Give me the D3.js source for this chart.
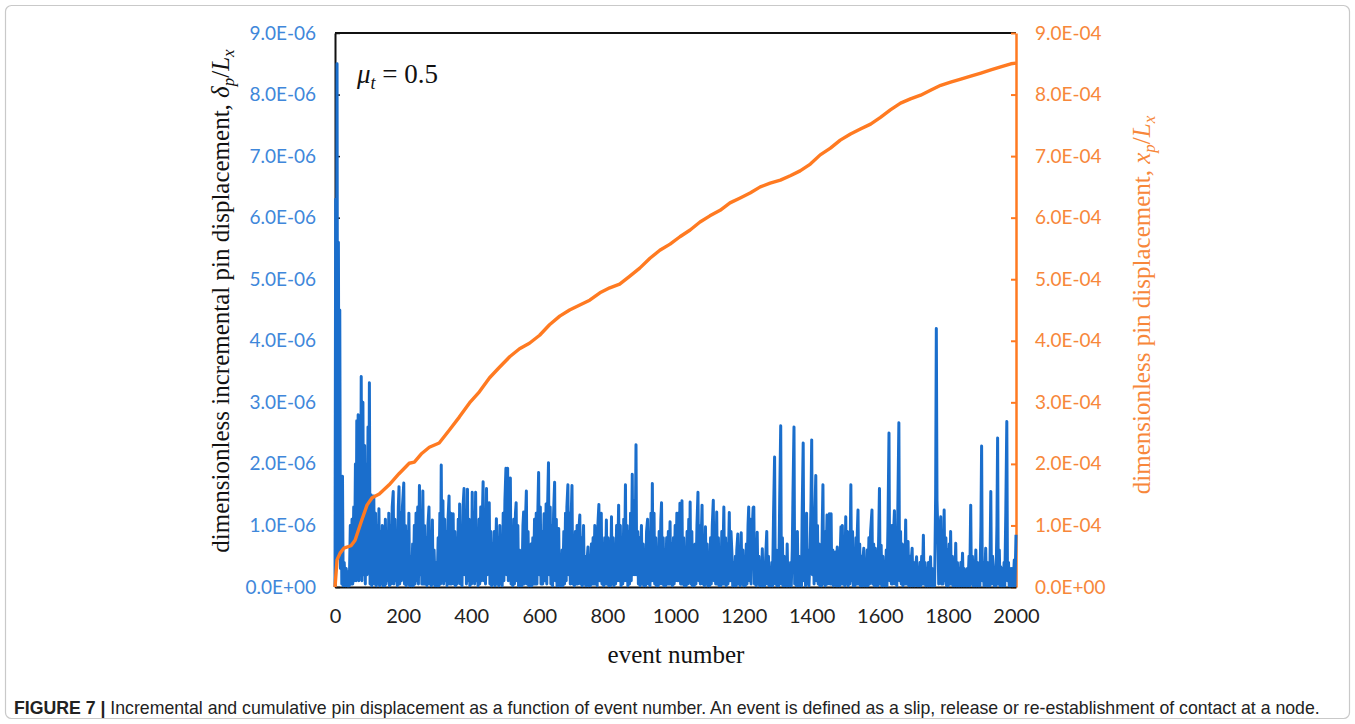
<!DOCTYPE html>
<html>
<head>
<meta charset="utf-8">
<script src="https://cdn.jsdelivr.net/npm/d3@7.9.0/dist/d3.min.js"></script>
<style>
  body { margin: 0; background: #fff; }
  svg { display: block; }
</style>
</head>
<body>
<div id="chart"></div>
<script>
// === Data ===
// x axis ticks (event number)
const xTicks = [0, 200, 400, 600, 800, 1000, 1200, 1400, 1600, 1800, 2000];

// left axis: incremental displacement, in units of 1E-06
const leftTicks = [0, 1, 2, 3, 4, 5, 6, 7, 8, 9];
const leftTickLabels = ["0.0E+00", "1.0E-06", "2.0E-06", "3.0E-06", "4.0E-06",
  "5.0E-06", "6.0E-06", "7.0E-06", "8.0E-06", "9.0E-06"];

// right axis: cumulative displacement, in units of 1E-04
const rightTicks = [0, 1, 2, 3, 4, 5, 6, 7, 8, 9];
const rightTickLabels = ["0.0E+00", "1.0E-04", "2.0E-04", "3.0E-04", "4.0E-04",
  "5.0E-04", "6.0E-04", "7.0E-04", "8.0E-04", "9.0E-04"];

// incremental pin displacement [event, value x1E-06]
const incData = [
  [0,0],[2,6.3],[4,2.5],[6,8.5],[8,0.5],[10,5.6],[12,1.2],[14,4.5],[16,0.3],[18,1.8],[20,0.05],[22,1.8],[24,0.02],[27,0.4],[30,0.02],[33,0.3],[36,0.02],[39,0.25],[42,0.02],
  [45,1.0],[47,0.05],[50,1.1],[52,0.05],[55,1.3],[57,0.1],[60,2.0],[62,0.1],[64,2.7],[66,0.2],[68,2.8],[70,0.1],[73,2.6],[75,0.3],[77,3.42],[79,0.1],[82,3.0],[84,0.2],[87,2.3],[89,0.05],[92,2.0],[94,0.2],[97,2.6],[99,0.3],[101,3.32],[103,0.05],[106,1.5],[108,0.02],
  [111,1.0],[114,1.48],[116,0.05],[119,1.2],[121,0.02],[124,1.0],[126,0.05],[129,1.27],[131,0.02],[134,0.9],[136,0.05],[139,1.0],[141,0.02],[144,0.6],[146,0.02],[148,1.1],[150,0.05],[153,0.9],[155,0.1],[158,1.2],[160,0.02],[163,1.0],[165,0.05],[168,1.3],[171,1.55],[173,0.05],[176,1.1],[178,0.1],[181,0.9],[183,0.02],[186,1.3],[188,1.63],[190,0.05],[193,1.2],[195,0.1],[198,1.3],[202,1.69],[204,0.05],[207,1.0],[209,0.02],[212,0.9],[214,0.05],[217,1.2],[219,0.02],[222,0.5],[225,0.02],[228,0.7],[230,0.02],[233,1.0],[235,0.05],[238,1.2],[240,0.1],[243,1.3],[245,0.05],[248,1.65],[250,0.2],[253,1.2],[255,0.05],[258,1.56],[260,0.05],[263,1.0],[265,0.05],[268,0.8],[270,0.02],[273,1.0],[276,1.30],[278,0.05],[281,0.9],[283,0.02],[286,1.09],[288,0.05],[291,0.6],[294,0.02],[297,0.4],[300,0.02],
  [303,0.8],[305,0.02],[308,1.2],[310,0.05],[312,1.98],[314,0.1],[317,1.4],[319,0.05],[322,1.1],[324,0.1],[327,0.9],[329,0.02],[332,1.1],[335,1.48],[337,0.05],[340,1.2],[342,0.05],[345,0.9],[347,1.19],[349,0.05],[352,0.9],[354,0.02],[357,0.8],[359,0.05],[362,1.1],[364,0.1],[366,1.35],[368,0.05],[371,1.0],[373,0.02],[376,1.3],[379,1.6],[381,0.2],[384,1.2],[386,0.05],[389,1.59],[391,0.1],[394,1.1],[396,0.02],[399,1.0],[401,0.05],[403,1.54],[405,0.2],[408,1.2],[410,0.05],[413,1.54],[415,0.1],[418,0.9],[420,0.02],[423,1.1],[425,0.05],[428,1.3],[430,0.1],[433,1.2],[435,1.71],[437,0.1],[440,1.2],[442,0.05],[445,1.6],[447,0.2],[450,1.1],[453,1.37],[455,0.05],[458,0.9],[460,0.02],[463,0.7],[465,0.05],[468,0.9],[470,0.02],[474,1.11],[476,0.05],[479,0.8],[481,0.02],[484,1.0],[486,0.05],[489,0.7],[491,0.02],[494,1.2],[496,0.1],[499,1.4],[502,1.93],[504,0.2],
  [507,1.93],[509,0.1],[512,1.2],[515,1.77],[517,0.05],[520,0.9],[522,0.02],[525,1.1],[527,0.05],[530,1.2],[532,1.37],[534,0.1],[537,1.0],[539,0.02],[542,0.6],[544,0.02],[547,0.5],[549,0.02],[552,1.0],[554,1.22],[556,0.05],[559,1.0],[562,1.56],[564,0.05],[567,0.9],[569,0.02],[572,0.5],[574,0.02],[576,0.7],[578,0.02],[581,0.8],[583,0.05],[586,1.1],[588,0.05],[591,1.2],[593,0.05],[596,1.3],[598,1.86],[600,0.2],[603,1.3],[605,0.05],[608,0.9],[610,0.05],[614,1.19],[616,0.1],[620,1.35],[622,0.05],[624,1.2],[627,2.02],[629,0.2],[632,1.3],[634,0.05],[637,1.0],[639,0.02],[642,1.2],[645,1.7],[647,0.1],[650,1.1],[652,0.02],[654,0.7],[657,0.95],[659,0.02],[662,0.5],[664,0.02],[667,0.6],[669,0.02],[672,0.9],[674,0.05],[677,1.2],[679,0.1],[681,1.3],[684,1.66],[686,0.2],[689,1.2],[691,0.05],[693,1.0],[696,1.65],[698,0.05],
  [701,0.8],[703,0.02],[706,0.9],[708,0.05],[711,1.0],[713,0.05],[716,0.9],[719,1.17],[721,0.05],[724,0.8],[726,0.02],[728,0.6],[730,1.0],[732,0.05],[735,0.5],[737,0.02],[740,0.4],[743,0.65],[745,0.02],[748,0.5],[750,0.02],[753,0.7],[755,0.05],[758,0.8],[760,0.05],[763,1.0],[765,0.05],[768,0.9],[770,0.02],[772,1.0],[775,1.34],[777,0.1],[780,0.9],[782,1.2],[784,0.05],[787,0.7],[789,0.02],[792,0.8],[794,0.05],[797,1.09],[799,0.05],[802,0.8],[804,0.02],[807,0.6],[809,0.02],[812,1.14],[814,0.05],[817,0.8],[819,0.02],[822,0.7],[824,0.05],[827,1.0],[829,0.1],[833,1.33],[835,0.1],[838,1.0],[840,0.02],[843,0.8],[845,0.05],[848,1.1],[850,0.1],[853,1.66],[855,0.1],[858,1.0],[860,0.02],[863,0.9],[865,0.05],[868,1.2],[870,0.1],[873,1.83],[875,0.2],[878,1.4],[881,0.2],[884,2.31],[886,0.2],[889,0.9],[891,0.05],[894,0.8],[896,0.02],[898,0.6],
  [900,1.0],[902,0.05],[905,0.7],[907,0.02],[910,0.6],[912,0.02],[915,0.9],[918,1.1],[920,0.05],[923,0.8],[925,0.02],[928,1.2],[930,0.1],[932,1.68],[934,0.1],[937,1.2],[939,0.05],[942,0.8],[944,0.02],[947,0.6],[949,0.02],[952,0.9],[954,0.05],[957,1.1],[959,1.37],[961,0.05],[964,0.8],[966,0.02],[969,0.6],[971,0.02],[974,0.8],[976,0.05],[979,0.9],[981,0.05],[984,1.06],[986,0.05],[989,0.7],[991,0.02],[994,0.8],[996,0.05],[999,1.0],
  [1001,0.1],[1004,1.2],[1006,0.1],[1008,1.2],[1010,0.1],[1013,1.36],[1015,0.05],[1019,1.4],[1021,0.05],[1024,0.8],[1026,0.02],[1029,0.6],[1031,0.02],[1034,0.9],[1036,0.05],[1039,1.1],[1041,0.1],[1043,1.38],[1045,0.05],[1048,0.9],[1050,0.02],[1053,0.68],[1055,0.02],[1058,0.7],[1060,0.05],[1063,1.0],[1066,1.54],[1068,0.1],[1071,1.0],[1073,0.05],[1076,0.9],[1078,1.33],[1080,0.05],[1083,0.7],[1085,0.02],[1088,0.98],[1090,0.05],[1093,0.7],[1095,0.02],[1098,0.5],[1100,0.02],[1103,0.8],[1105,0.05],[1108,1.0],[1111,1.41],[1113,0.1],[1116,1.0],[1118,0.05],[1121,1.22],[1123,0.05],[1126,0.8],[1128,0.02],[1131,0.6],[1133,0.02],[1136,0.9],[1138,0.05],[1142,1.30],[1144,0.05],[1147,0.8],[1149,0.02],[1152,0.7],[1154,0.05],[1158,1.21],[1160,0.1],[1163,0.9],[1166,0.5],[1168,0.02],[1171,0.4],[1173,0.02],[1176,0.5],[1178,0.02],[1180,0.6],[1183,0.86],[1185,0.05],[1188,0.6],[1190,0.02],[1193,0.88],[1195,0.05],[1198,0.6],
  [1200,0.02],[1203,0.4],[1205,0.02],[1208,0.7],[1210,0.05],[1213,1.0],[1215,1.30],[1217,0.1],[1220,1.1],[1222,0.05],[1225,0.9],[1228,1.29],[1230,1.30],[1232,0.05],[1235,0.7],[1237,0.02],[1240,0.89],[1242,0.05],[1245,0.5],[1247,0.02],[1250,0.3],[1252,0.02],[1255,0.62],[1257,0.02],[1260,0.4],[1262,0.02],[1265,0.5],[1268,0.9],[1270,0.05],[1273,0.5],[1275,0.02],[1278,0.3],[1280,0.02],[1283,0.4],[1285,0.02],[1288,1.2],[1291,2.11],[1293,0.05],[1296,0.6],[1298,0.02],[1301,0.3],[1303,0.02],[1306,1.4],[1309,2.62],[1311,0.05],[1314,0.8],[1316,0.02],[1319,0.5],[1321,0.02],[1324,0.4],[1326,0.02],[1328,0.7],[1330,0.02],[1333,0.3],[1335,0.02],[1338,0.4],[1340,0.02],[1343,0.6],[1345,1.5],[1348,2.6],[1350,0.05],[1353,0.3],[1355,0.02],[1358,0.9],[1360,0.02],[1363,0.5],[1365,0.02],[1368,0.4],[1370,0.02],[1372,1.2],[1375,2.34],[1377,0.1],[1380,0.5],[1382,0.02],[1385,1.2],[1387,0.05],[1390,0.6],[1392,0.02],[1395,0.5],[1398,1.4],
  [1400,2.39],[1402,0.2],[1405,1.2],[1407,0.05],[1409,1.1],[1412,1.81],[1414,0.1],[1417,1.0],[1419,0.05],[1422,0.7],[1424,0.02],[1427,0.6],[1429,0.02],[1431,1.0],[1433,1.66],[1435,0.05],[1438,0.9],[1440,0.02],[1443,0.6],[1445,1.17],[1447,0.05],[1450,0.8],[1452,1.19],[1454,0.05],[1457,1.19],[1459,0.05],[1462,0.6],[1464,0.02],[1467,0.4],[1470,0.57],[1472,0.02],[1475,0.65],[1477,0.02],[1480,0.5],[1482,0.02],[1484,0.6],[1486,0.98],[1488,0.05],[1490,1.0],[1492,0.05],[1495,0.7],[1497,0.02],[1500,1.14],[1502,0.05],[1505,0.9],[1507,0.02],[1510,0.8],[1512,0.05],[1515,1.66],[1517,0.1],[1520,0.9],[1522,0.02],[1525,0.6],[1527,0.02],[1530,0.8],[1532,0.05],[1534,0.9],[1536,1.25],[1538,0.05],[1541,0.7],[1543,0.02],[1546,0.5],[1548,0.02],[1550,0.4],[1553,0.63],[1555,0.02],[1558,0.4],[1560,0.02],[1563,0.6],[1565,0.02],[1568,0.8],[1570,0.05],[1573,0.9],[1577,1.25],[1579,0.05],[1582,0.7],[1584,0.02],[1587,0.63],[1589,0.02],[1592,0.5],[1594,0.02],[1597,0.9],[1599,1.6],
  [1601,0.05],[1604,0.68],[1606,0.02],[1609,0.5],[1611,0.02],[1614,0.4],[1616,0.02],[1619,0.6],[1621,0.02],[1624,1.0],[1627,2.5],[1629,0.1],[1632,0.9],[1634,0.05],[1636,1.0],[1638,0.05],[1640,0.8],[1643,1.24],[1645,0.05],[1648,0.8],[1650,0.02],[1653,1.3],[1656,2.67],[1658,0.1],[1661,0.9],[1663,0.05],[1666,0.7],[1668,0.02],[1671,0.6],[1673,0.05],[1676,1.09],[1678,0.05],[1680,0.6],[1683,0.74],[1685,0.02],[1688,0.5],[1690,0.02],[1692,0.4],[1695,0.63],[1697,0.02],[1700,0.4],[1702,0.02],[1705,0.3],[1708,0.49],[1710,0.02],[1713,0.3],[1715,0.02],[1718,0.4],[1720,0.02],[1723,0.5],[1725,0.05],[1728,0.84],[1730,0.05],[1733,0.4],[1735,0.02],[1738,0.3],[1740,0.02],[1743,0.4],[1745,0.02],[1749,0.49],[1751,0.02],[1754,0.3],[1756,0.02],[1759,0.2],[1761,0.02],[1764,1.5],[1766,4.2],[1768,1.4],[1771,0.8],[1773,0.05],[1776,0.9],[1779,1.14],[1781,0.05],[1784,0.8],[1786,0.05],[1789,1.25],[1791,0.1],[1794,0.8],[1796,0.02],[1799,0.6],
  [1801,0.02],[1804,0.7],[1806,0.05],[1808,0.9],[1810,0.05],[1813,0.5],[1815,0.02],[1818,0.4],[1820,0.02],[1823,0.71],[1825,0.02],[1828,0.4],[1830,0.02],[1833,0.3],[1835,0.02],[1838,0.4],[1840,0.02],[1843,0.55],[1845,0.02],[1848,0.3],[1850,0.02],[1852,0.22],[1854,0.02],[1857,0.3],[1859,0.02],[1862,0.5],[1864,0.02],[1867,1.33],[1869,0.05],[1872,0.5],[1874,0.02],[1877,0.3],[1879,0.02],[1882,0.6],[1884,0.02],[1887,0.4],[1889,0.02],[1892,0.3],[1894,0.02],[1897,1.0],[1899,2.29],[1901,0.1],[1904,0.4],[1906,0.02],[1909,0.3],[1911,0.63],[1913,0.02],[1916,0.4],[1918,0.02],[1921,0.3],[1923,0.02],[1926,1.55],[1928,0.05],[1931,0.5],[1934,0.27],[1936,0.02],[1939,0.3],[1941,0.02],[1944,1.0],[1946,2.42],[1948,0.05],[1951,0.6],[1953,0.02],[1955,0.33],[1957,0.02],[1960,0.3],[1962,0.02],[1965,0.4],[1967,0.02],[1970,1.2],[1973,2.69],[1975,0.1],[1978,0.4],[1980,0.02],[1983,0.3],[1985,0.02],[1988,0.3],[1990,0.02],[1993,0.2],[1995,0.44],[1997,0.02],[2000,0.85]
];

// cumulative pin displacement [event, value x1E-04]
const cumData = [
  [0,0],[6,0.44],[15,0.55],[26,0.63],[47,0.67],[59,0.76],[77,1.06],[94,1.33],[109,1.45],[130,1.51],[159,1.66],[188,1.84],[218,2.01],[233,2.03],[253,2.16],[277,2.27],[306,2.34],[336,2.55],[365,2.76],[395,2.99],[424,3.17],[454,3.40],[483,3.57],[513,3.74],[542,3.87],[571,3.96],[601,4.09],[630,4.26],[660,4.40],[689,4.50],[719,4.58],[748,4.66],[778,4.78],[807,4.86],[836,4.92],[866,5.05],[895,5.18],[925,5.34],[954,5.47],[984,5.57],[1013,5.69],[1043,5.80],[1072,5.93],[1101,6.03],[1131,6.12],[1160,6.24],[1190,6.32],[1219,6.40],[1249,6.50],[1278,6.56],[1308,6.61],[1337,6.68],[1366,6.76],[1396,6.87],[1425,7.02],[1455,7.13],[1484,7.26],[1514,7.36],[1543,7.44],[1573,7.52],[1602,7.63],[1631,7.75],[1661,7.86],[1690,7.93],[1720,7.99],[1749,8.07],[1779,8.15],[1808,8.20],[1838,8.25],[1867,8.30],[1897,8.35],[1926,8.40],[1955,8.45],[1985,8.50],[2000,8.51]
];

// === Colours ===
const blueLine = "#1a6ecc";
const blueText = "#3f87da";
const orangeLine = "#ff7a21";
const orangeText = "#f7873a";

// === Layout ===
const W = 1355, H = 724;
const plot = { left: 335, right: 1016, top: 33, bottom: 587 };

const svg = d3.select("#chart").append("svg")
  .attr("width", W).attr("height", H);

// figure border
svg.append("rect")
  .attr("x", 5.5).attr("y", 5.5)
  .attr("width", W - 11).attr("height", H - 11)
  .attr("rx", 6)
  .attr("fill", "none").attr("stroke", "#c9c9c9").attr("stroke-width", 1.2);

// === Scales ===
const x = d3.scaleLinear().domain([0, 2000]).range([plot.left, plot.right]);
const yL = d3.scaleLinear().domain([0, 9]).range([plot.bottom, plot.top]);
const yR = d3.scaleLinear().domain([0, 9]).range([plot.bottom, plot.top]);

// frame (top line)
svg.append("line")
  .attr("x1", plot.left).attr("x2", plot.right)
  .attr("y1", plot.top).attr("y2", plot.top)
  .attr("stroke", "#111").attr("stroke-width", 2);

// === Axes ===
const tickFont = "Lato, 'Open Sans', sans-serif";

const leftAxis = svg.append("g")
  .attr("transform", `translate(${plot.left},0)`)
  .call(d3.axisLeft(yL).tickValues(leftTicks)
    .tickFormat((d, i) => leftTickLabels[i])
    .tickSizeInner(-5).tickSizeOuter(0).tickPadding(19));
leftAxis.select(".domain").attr("stroke", "#111").attr("stroke-width", 2);
leftAxis.selectAll(".tick line").attr("stroke", "#111").attr("stroke-width", 1.5);
leftAxis.selectAll(".tick text")
  .attr("fill", blueText).style("font-family", tickFont).style("font-size", "19px");

const rightAxis = svg.append("g")
  .attr("transform", `translate(${plot.right},0)`)
  .call(d3.axisRight(yR).tickValues(rightTicks)
    .tickFormat((d, i) => rightTickLabels[i])
    .tickSizeInner(-5).tickSizeOuter(0).tickPadding(19));
rightAxis.select(".domain").attr("stroke", orangeLine).attr("stroke-width", 2.5);
rightAxis.selectAll(".tick line").attr("stroke", orangeLine).attr("stroke-width", 2);
rightAxis.selectAll(".tick text")
  .attr("fill", orangeText).style("font-family", tickFont).style("font-size", "19px");

const bottomAxis = svg.append("g")
  .attr("transform", `translate(0,${plot.bottom})`)
  .call(d3.axisBottom(x).tickValues(xTicks)
    .tickFormat(d3.format("d"))
    .tickSizeInner(0).tickSizeOuter(0).tickPadding(22));
bottomAxis.select(".domain").attr("stroke", "#111").attr("stroke-width", 2);
bottomAxis.selectAll(".tick text")
  .attr("fill", "#222").style("font-family", tickFont).style("font-size", "20px");

// === Series ===
const incLine = d3.line().x(d => x(d[0])).y(d => yL(d[1]));
svg.append("path")
  .datum(incData)
  .attr("d", incLine)
  .attr("fill", "none")
  .attr("stroke", blueLine)
  .attr("stroke-width", 3)
  .attr("stroke-linejoin", "round");

const cumLine = d3.line().x(d => x(d[0])).y(d => yR(d[1]));
svg.append("path")
  .datum(cumData)
  .attr("d", cumLine)
  .attr("fill", "none")
  .attr("stroke", orangeLine)
  .attr("stroke-width", 3.4)
  .attr("stroke-linejoin", "round");

// === Titles ===
const serif = "'Liberation Serif', 'DejaVu Serif', serif";

function mathTitle(g, prefix, sym) {
  const t = g.append("text")
    .attr("text-anchor", "middle")
    .style("font-family", serif).style("font-size", "25px");
  t.append("tspan").text(prefix);
  t.append("tspan").style("font-style", "italic").text(sym);
  t.append("tspan").style("font-style", "italic").style("font-size", "17px").attr("dy", 5).text("p");
  t.append("tspan").attr("dy", -5).text("/");
  t.append("tspan").style("font-style", "italic").text("L");
  t.append("tspan").style("font-style", "italic").style("font-size", "17px").attr("dy", 5).text("x");
  return t;
}

const leftTitle = svg.append("g").attr("transform", "translate(229,301) rotate(-90)");
mathTitle(leftTitle, "dimensionless incremental pin displacement, ", "\u03b4").attr("fill", "#111");

const rightTitle = svg.append("g").attr("transform", "translate(1150,305) rotate(-90)");
mathTitle(rightTitle, "dimensionless pin displacement, ", "x").attr("fill", orangeText);

svg.append("text")
  .attr("x", 676).attr("y", 663)
  .attr("text-anchor", "middle")
  .style("font-family", serif).style("font-size", "25px")
  .attr("fill", "#111")
  .text("event number");

// friction annotation
const mu = svg.append("text")
  .attr("x", 357).attr("y", 83)
  .style("font-family", serif).style("font-size", "27px").attr("fill", "#111");
mu.append("tspan").style("font-style", "italic").text("\u03bc");
mu.append("tspan").style("font-style", "italic").style("font-size", "18px").attr("dy", 6).text("t");
mu.append("tspan").attr("dy", -6).text(" = 0.5");

// === Caption ===
const cap = svg.append("text")
  .attr("x", 14).attr("y", 714)
  .style("font-family", "'Liberation Sans Narrow', 'Liberation Sans', Arial, sans-serif")
  .style("font-size", "17.7px").attr("fill", "#222");
cap.append("tspan").style("font-weight", "bold").text("FIGURE 7 | ");
cap.append("tspan").text("Incremental and cumulative pin displacement as a function of event number. An event is defined as a slip, release or re-establishment of contact at a node.");
</script>
</body>
</html>
